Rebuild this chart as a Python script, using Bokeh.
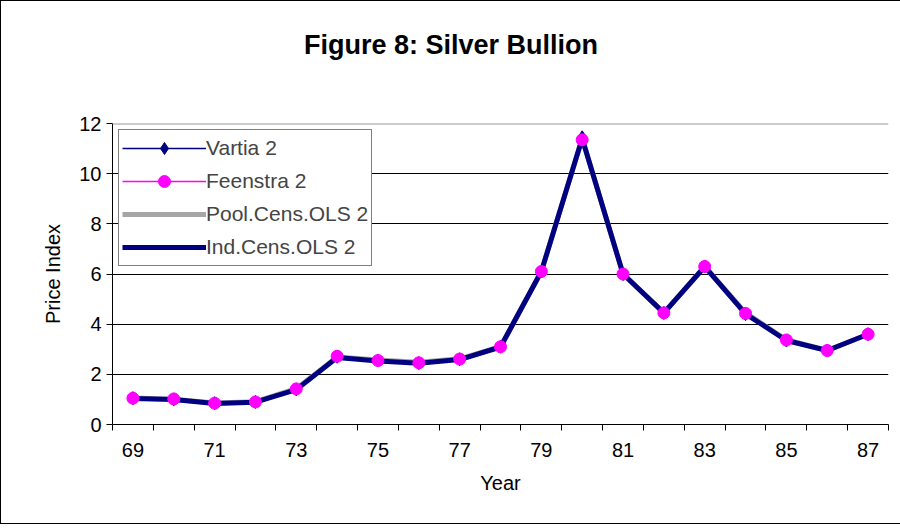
from bokeh.plotting import figure
from bokeh.models import FixedTicker, Legend, LegendItem, Span, Column, Div
from bokeh.embed import file_html
from bokeh.resources import INLINE

years = list(range(69, 88))
year_labels = {y: str(y) for y in range(69, 88, 2)}
vartia = [1.05, 1.0, 0.85, 0.9, 1.4, 2.7, 2.55, 2.45, 2.6, 3.1, 6.1, 11.45, 6.0, 4.45, 6.3, 4.4, 3.35, 2.95, 3.6]
feenstra = [1.05, 1.02, 0.85, 0.9, 1.42, 2.72, 2.55, 2.46, 2.61, 3.1, 6.1, 11.35, 6.0, 4.45, 6.3, 4.43, 3.37, 2.95, 3.6]
pool_ols = [1.06, 1.01, 0.86, 0.91, 1.43, 2.69, 2.57, 2.48, 2.62, 3.1, 6.1, 11.4, 6.0, 4.45, 6.3, 4.45, 3.38, 2.95, 3.6]
ind_ols = [1.04, 1.0, 0.84, 0.89, 1.39, 2.67, 2.53, 2.44, 2.59, 3.09, 6.1, 11.4, 6.0, 4.45, 6.29, 4.41, 3.35, 2.95, 3.6]

font = "Liberation Sans"
title = Div(text="Figure 8: Silver Bullion", width=890, height=70,
            styles={"text-align": "center", "font-family": font, "font-size": "27px",
                    "font-weight": "bold", "color": "black", "padding-top": "20px",
                    "box-sizing": "border-box"})

p = figure(width=890, height=442, x_range=(68.5, 87.5), y_range=(0, 12),
           output_backend="svg", toolbar_location=None,
           min_border_left=111, min_border_right=3, min_border_top=42, min_border_bottom=99)
p.outline_line_color = None

p.xaxis.ticker = FixedTicker(ticks=list(range(69, 88, 2)), minor_ticks=[y + 0.5 for y in range(68, 88)])
p.xaxis.major_label_overrides = year_labels
p.xaxis.major_tick_out = 0
p.xaxis.major_tick_in = 0
p.xaxis.minor_tick_out = 6
p.xaxis.minor_tick_in = 0
p.yaxis.ticker = FixedTicker(ticks=list(range(0, 13, 2)))
p.yaxis.major_tick_out = 6
p.yaxis.major_tick_in = 0
for ax in (p.xaxis, p.yaxis):
    ax.axis_line_color = "black"
    ax.major_tick_line_color = "black"
    ax.minor_tick_line_color = "black"
    ax.major_label_text_font = font
    ax.major_label_text_font_size = "20px"
    ax.major_label_text_color = "black"
    ax.axis_label_text_font = font
    ax.axis_label_text_font_size = "20px"
    ax.axis_label_text_font_style = "normal"
    ax.axis_label_text_color = "black"
p.yaxis.minor_tick_line_color = None
p.xaxis.major_label_standoff = 12
p.xaxis.axis_label = "Year"
p.xaxis.axis_label_standoff = 12
p.yaxis.axis_label = "Price Index"
p.yaxis.axis_label_standoff = 12
p.xgrid.grid_line_color = None
p.ygrid.grid_line_color = "black"
p.ygrid.ticker = FixedTicker(ticks=[2, 4, 6, 8, 10])
p.add_layout(Span(location=12, dimension="width", line_color="#999999", line_width=2))

r_pool = p.line(years, pool_ols, line_color="#a6a6a6", line_width=5)
r_v = p.line(years, vartia, line_color="#000080", line_width=1.5)
r_f = p.line(years, feenstra, line_color="#ff00ff", line_width=1.5)
r_ind = p.line(years, ind_ols, line_color="#000080", line_width=5)
r_vm = p.scatter(years, vartia, marker="diamond", size=13, color="#000080")
r_fm = p.scatter(years, feenstra, marker="circle", size=12, color="#ff00ff")

legend = Legend(items=[
    LegendItem(label="Vartia 2", renderers=[r_v, r_vm]),
    LegendItem(label="Feenstra 2", renderers=[r_f, r_fm]),
    LegendItem(label="Pool.Cens.OLS 2", renderers=[r_pool]),
    LegendItem(label="Ind.Cens.OLS 2", renderers=[r_ind]),
], location="top_left")
legend.label_text_font = font
legend.label_text_font_size = "21px"
legend.glyph_width = 84
legend.glyph_height = 30
legend.spacing = 3
legend.padding = 3
legend.margin = 6
legend.label_standoff = 0
legend.border_line_color = "black"
legend.border_line_width = 1.5
legend.background_fill_alpha = 1
p.add_layout(legend)

page = Column(title, p, styles={"border": "1px solid black"})
open("out.html", "w").write(file_html(page, INLINE))
